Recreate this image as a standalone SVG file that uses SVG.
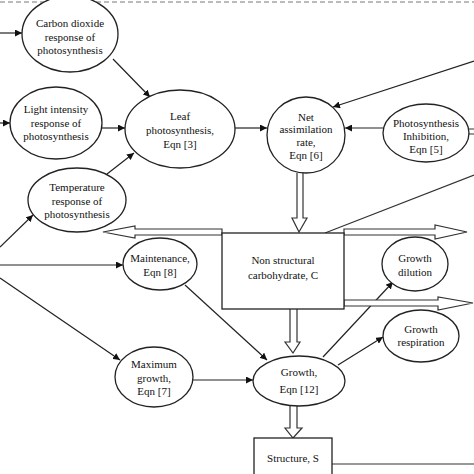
<svg xmlns="http://www.w3.org/2000/svg" width="474" height="474" viewBox="0 0 474 474">
<defs>
<marker id="ah" viewBox="0 0 10 10" refX="10" refY="5" markerWidth="7" markerHeight="7" markerUnits="userSpaceOnUse" orient="auto"><path d="M0,0 L10,5 L0,10 z" fill="#111"/></marker>
<style>
.n ellipse,.n rect{fill:#fff;stroke:#222;stroke-width:1.3}
text{font-family:"Liberation Serif","Times New Roman",serif;font-size:11px;fill:#111;text-anchor:middle}
.c line{stroke:#222;stroke-width:1.2;marker-end:url(#ah)}
.h{fill:#fff;stroke:#333;stroke-width:1.2}
.p{fill:none;stroke:#333;stroke-width:1.2}
</style>
</defs>
<rect width="474" height="474" fill="#fff"/>
<line x1="0" y1="2" x2="474" y2="2" stroke="#bbb" stroke-width="2" stroke-dasharray="5,3"/>
<g class="c" id="connectors">
<line x1="0" y1="33" x2="22" y2="33"/>
<line x1="0" y1="123" x2="10" y2="123"/>
<line x1="101" y1="128" x2="125" y2="128"/>
<line x1="113" y1="59" x2="150" y2="97"/>
<line x1="107" y1="174" x2="134" y2="153"/>
<line x1="0" y1="247" x2="33" y2="215"/>
<line x1="0" y1="265" x2="123" y2="265"/>
<line x1="0" y1="278" x2="120" y2="360"/>
<line x1="235" y1="128" x2="267" y2="128"/>
<line x1="383" y1="128" x2="345" y2="128"/>
<line x1="474" y1="61" x2="333" y2="107" stroke-width="1"/>
<line x1="185" y1="285" x2="267" y2="360"/>
<line x1="193" y1="380" x2="253" y2="380"/>
<line x1="323" y1="357" x2="393" y2="282"/>
<line x1="338" y1="365" x2="383" y2="337"/>
<path class="p" d="M325,233 L474,175"/>
<path class="p" d="M332,464 L474,464"/>
<path class="h" d="M297,173 L297,218 L292,218 L299,232 L307,218 L303,218 L303,173"/>
<path class="h" d="M290,309 L290,342 L285,342 L293,353 L300,342 L297,342 L297,309"/>
<path class="h" d="M290,405 L290,428 L285,428 L293,438 L302,428 L297,428 L297,405"/>
<path class="h" d="M222,229 L135,229 L135,226 L103,232 L135,238 L135,235 L222,235 z"/>
<path class="h" d="M344,229 L435,229 L435,225 L467,232 L435,239 L435,235 L344,235 z"/>
<path class="h" d="M344,300 L438,300 L438,297 L473,303 L438,310 L438,306 L344,306 z"/>
</g>
<g class="n" id="co2"><ellipse cx="70" cy="34" rx="48" ry="38"/><text x="70" y="27">Carbon dioxide</text><text x="70" y="41">response of</text><text x="70" y="54">photosynthesis</text></g>
<g class="n" id="light"><ellipse cx="56" cy="123" rx="46" ry="36"/><text x="56" y="113">Light intensity</text><text x="56" y="127">response of</text><text x="56" y="140">photosynthesis</text></g>
<g class="n" id="leaf"><ellipse cx="180" cy="129" rx="55" ry="39"/><text x="180" y="120">Leaf</text><text x="180" y="134">photosynthesis,</text><text x="180" y="148">Eqn [3]</text></g>
<g class="n" id="net"><ellipse cx="306" cy="135" rx="39" ry="38"/><text x="306" y="121">Net</text><text x="306" y="133">assimilation</text><text x="306" y="146">rate,</text><text x="306" y="159">Eqn [6]</text></g>
<g class="n" id="inhib"><ellipse cx="426" cy="133" rx="43" ry="29"/><text x="426" y="127">Photosynthesis</text><text x="426" y="140">Inhibition,</text><text x="426" y="153">Eqn [5]</text></g>
<path class="p" d="M468,129 L474,129 M468,134 L474,134"/>
<g class="n" id="temp"><ellipse cx="77" cy="200" rx="49" ry="32"/><text x="77" y="191">Temperature</text><text x="77" y="205">response of</text><text x="77" y="218">photosynthesis</text></g>
<g class="n" id="maint"><ellipse cx="160" cy="264" rx="37" ry="26"/><text x="160" y="262">Maintenance,</text><text x="160" y="276">Eqn [8]</text></g>
<g class="n" id="nsc"><rect x="222" y="233" width="122" height="76"/><text x="283" y="264">Non structural</text><text x="283" y="279">carbohydrate, C</text></g>
<g class="n" id="dil"><ellipse cx="415" cy="264" rx="33" ry="27"/><text x="415" y="262">Growth</text><text x="415" y="276">dilution</text></g>
<g class="n" id="resp"><ellipse cx="421" cy="336" rx="38" ry="26"/><text x="421" y="333">Growth</text><text x="421" y="346">respiration</text></g>
<g class="n" id="maxg"><ellipse cx="154" cy="377" rx="39" ry="30"/><text x="154" y="368">Maximum</text><text x="154" y="382">growth,</text><text x="154" y="395">Eqn [7]</text></g>
<g class="n" id="growth"><ellipse cx="299" cy="381" rx="46" ry="25"/><text x="299" y="376">Growth,</text><text x="299" y="393">Eqn [12]</text></g>
<g class="n" id="struct"><rect x="254" y="438" width="78" height="40"/><text x="293" y="462">Structure, S</text></g>
</svg>
